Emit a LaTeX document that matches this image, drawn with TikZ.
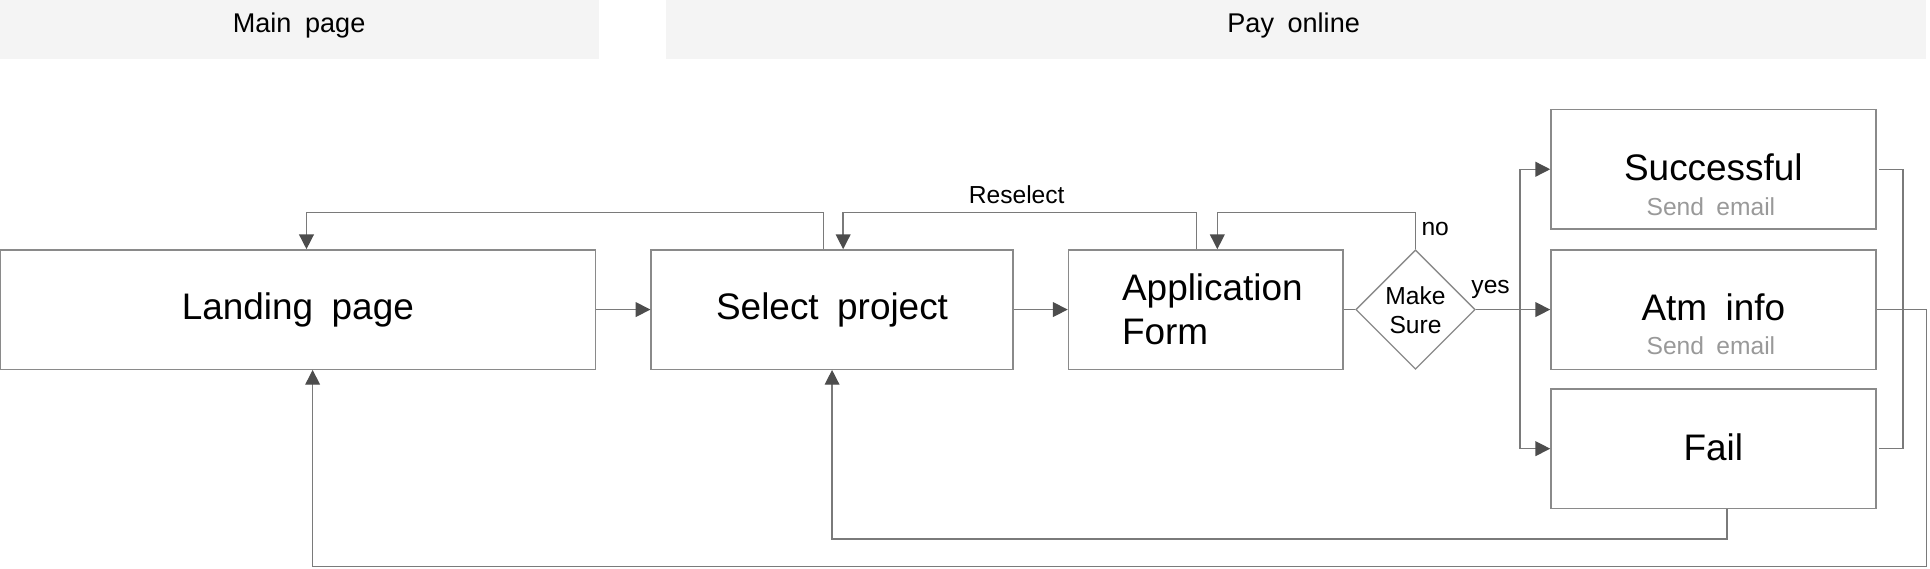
\documentclass[tikz,border=0pt]{standalone}
\usepackage{fontspec}
\setmainfont[WordSpace=1.8]{Liberation Sans}
\usetikzlibrary{arrows.meta,shapes.geometric}
\definecolor{bordergray}{HTML}{8A8A8A}
\definecolor{linegray}{HTML}{7A7A7A}
\definecolor{headgray}{HTML}{4D4D4D}
\definecolor{barfill}{HTML}{F4F4F4}
\definecolor{subgray}{HTML}{999999}
\begin{document}
\begin{tikzpicture}[x=1pt,y=-1pt,
  box/.style={draw=bordergray,line width=1.1pt,minimum width=#1,minimum height=97pt,inner sep=0pt},
  bar/.style={fill=barfill,draw=none,inner sep=0pt,minimum height=48pt},
  maintxt/.style={font=\fontsize{30}{36}\selectfont,inner sep=0pt},
  smalltxt/.style={font=\fontsize{20}{24}\selectfont,inner sep=0pt},
  headtxt/.style={font=\fontsize{22}{26}\selectfont,inner sep=0pt},
  subtxt/.style={font=\fontsize{20}{24}\selectfont,text=subgray,inner sep=0pt},
  ln/.style={draw=linegray,line width=1.1pt},
  arr/.style={ln,-{Triangle[length=12pt,width=12pt,fill=headgray,color=headgray]}}
]
\useasboundingbox (0,0) rectangle (1568,461.5);
% header bars
\node[bar,minimum width=487pt] (mainbar) at (243.5,24) {};
\node[headtxt] (maint) at (243,21) {Main page};
\node[bar,minimum width=1024pt] (paybar) at (1053,24) {};
\node[headtxt] (payt) at (1051,21) {Pay online};
% boxes
\node[box=484pt] (land) at (242,251.5) {};
\node[maintxt] (landt) at (land.center) {Landing page};
\node[box=294pt] (sel) at (676,251.5) {};
\node[maintxt] (selt) at (sel.center) {Select project};
\node[box=223pt] (app) at (979.5,251.5) {};
\node[maintxt,align=left] (appt) at (985,251.5) {Application\\Form};
\node[draw=bordergray,line width=1.1pt,diamond,aspect=1,minimum width=97pt,minimum height=97pt,inner sep=0pt] (dia) at (1150,251.5) {};
\node[smalltxt,align=center] (diat) at (1150,252) {Make\\Sure};
\node[box=264pt] (succ) at (1392,137.5) {};
\node[maintxt] (succt) at (1392,136) {Successful};
\node[subtxt] (succs) at (1390,168) {Send email};
\node[box=264pt] (atm) at (1392,251.5) {};
\node[maintxt] (atmt) at (1392,250) {Atm info};
\node[subtxt] (atms) at (1390,281) {Send email};
\node[box=264pt] (fail) at (1392,364.5) {};
\node[maintxt] (failt) at (1392,363) {Fail};
% connectors
\draw[arr] (land.east) -- (sel.west);
\draw[arr] (sel.east) -- (app.west);
\draw[ln] (app.east) -- (dia.west);
\draw[arr] (dia.east) -- (atm.west);
\node[smalltxt] (yes) at (1211,235) {yes};
\coordinate (br) at (1235,251.5);
\draw[arr] (br) |- (succ.west);
\draw[arr] (br) |- (fail.west);
\draw[arr] (dia.north) -- ++(0,-30) -| ([xshift=9.5pt]app.north);
\node[smalltxt] (no) at (1166,186) {no};
\draw[arr] ([xshift=-7.5pt]app.north) -- ++(0,-30) -| ([xshift=9pt]sel.north);
\node[smalltxt] (resel) at (826,158) {Reselect};
\draw[arr] ([xshift=-7pt]sel.north) -- ++(0,-30) -| ([xshift=7pt]land.north);
\coordinate (rb1) at (1546,137.5);
\coordinate (rb2) at (1546,364.5);
\draw[ln] ([xshift=2pt]succ.east) -- (rb1) -- (rb2) -- ([xshift=2pt]fail.east);
\coordinate (ra) at (1565,251.5);
\coordinate (rb) at (1565,460);
\draw[arr] (atm.east) -- (ra) -- (rb) -| ([xshift=12pt]land.south);
\coordinate (fb) at (1403,438);
\draw[arr] ([xshift=11pt]fail.south) -- (fb) -| (sel.south);
\end{tikzpicture}
\end{document}
